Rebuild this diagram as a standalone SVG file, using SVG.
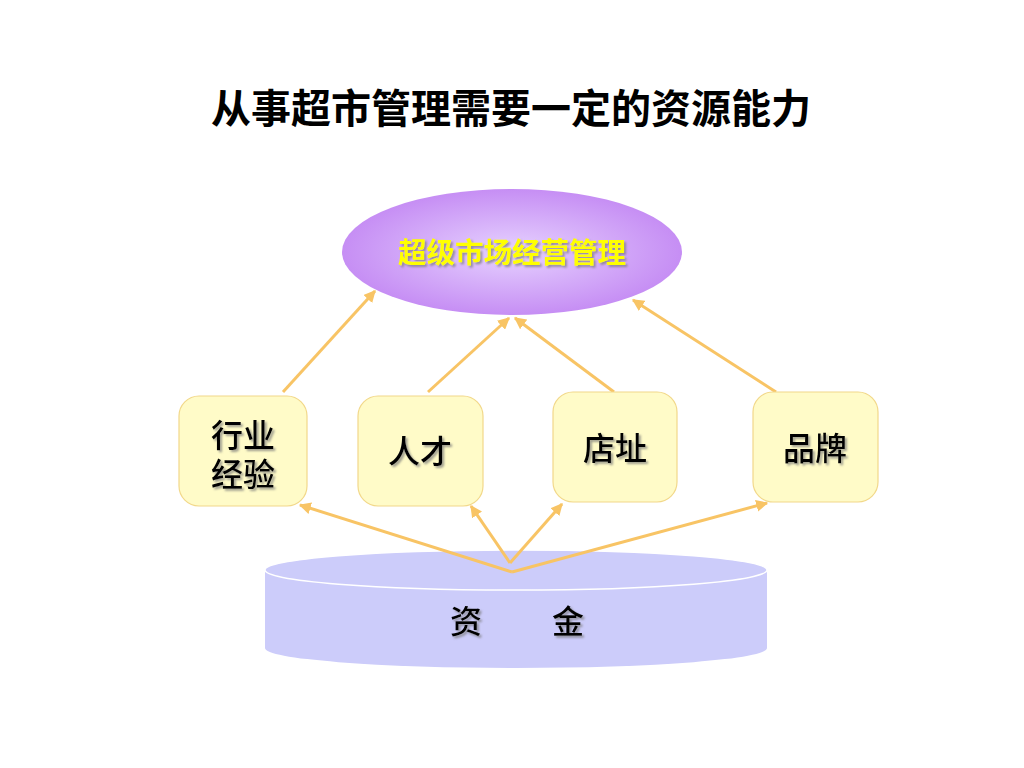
<svg xmlns="http://www.w3.org/2000/svg" width="1024" height="768" viewBox="0 0 1024 768">
<style>
.t{font-family:"Liberation Sans","Noto Sans CJK SC",sans-serif;}
.title{font-size:40px;font-weight:bold;fill:#000;}
.box{fill:#fffbc8;stroke:#f2d88a;stroke-width:1.2;}
.lbl{font-size:32px;font-weight:500;fill:#000;filter:url(#sh);}
.conn{stroke:#f8c465;stroke-width:3;fill:none;marker-end:url(#ah);}
</style>
<defs>
<radialGradient id="pg" cx="50%" cy="50%" r="50%">
<stop offset="0" stop-color="#e6d2ff"/>
<stop offset="1" stop-color="#c68ef4"/>
</radialGradient>
<marker id="ah" viewBox="0 0 10 10" refX="9" refY="5" markerWidth="4" markerHeight="4" orient="auto" markerUnits="strokeWidth">
<path d="M0,0 L10,5 L0,10 z" fill="#f8c465"/>
</marker>
<filter id="sh" x="-10%" y="-10%" width="130%" height="130%">
<feDropShadow dx="2" dy="2" stdDeviation="0.8" flood-color="#777" flood-opacity="0.7"/>
</filter>
</defs>
<rect width="1024" height="768" fill="#fff"/>
<text class="t title" x="511" y="123" text-anchor="middle">从事超市管理需要一定的资源能力</text>

<g id="cylinder">
<path d="M265,570 L265,648 A251,20 0 0 0 767,648 L767,570 Z" fill="#ccccfa"/>
<ellipse cx="516" cy="570" rx="251" ry="20" fill="#ccccfa" stroke="#fff" stroke-width="1.5"/>
<text class="t lbl" x="466" y="633" text-anchor="middle">资</text>
<text class="t lbl" x="568" y="633" text-anchor="middle">金</text>
</g>

<g id="connectors">
<line class="conn" x1="283" y1="392" x2="375" y2="291"/>
<line class="conn" x1="428" y1="392" x2="509" y2="318"/>
<line class="conn" x1="614" y1="392" x2="515" y2="318"/>
<line class="conn" x1="776" y1="392" x2="633" y2="300"/>
<line class="conn" x1="512" y1="572" x2="300" y2="505"/>
<line class="conn" x1="510" y1="563" x2="471" y2="506"/>
<line class="conn" x1="510" y1="563" x2="562" y2="504"/>
<line class="conn" x1="512" y1="572" x2="767" y2="503"/>
</g>

<g id="goal">
<ellipse cx="512" cy="252" rx="170" ry="63" fill="url(#pg)"/>
<text class="t" x="512" y="263" text-anchor="middle" font-size="28.5" font-weight="bold" fill="#ffff00" filter="url(#sh)">超级市场经营管理</text>
</g>

<g id="n1">
<rect class="box" x="179" y="396" width="128" height="110" rx="20"/>
<text class="t lbl" x="243" y="447" text-anchor="middle">行业</text>
<text class="t lbl" x="243" y="486" text-anchor="middle">经验</text>
</g>
<g id="n2">
<rect class="box" x="358" y="396" width="125" height="110" rx="20"/>
<text class="t lbl" x="420" y="463" text-anchor="middle">人才</text>
</g>
<g id="n3">
<rect class="box" x="553" y="392" width="124" height="110" rx="20"/>
<text class="t lbl" x="615" y="460" text-anchor="middle">店址</text>
</g>
<g id="n4">
<rect class="box" x="753" y="392" width="125" height="110" rx="20"/>
<text class="t lbl" x="815" y="460" text-anchor="middle">品牌</text>
</g>
</svg>
